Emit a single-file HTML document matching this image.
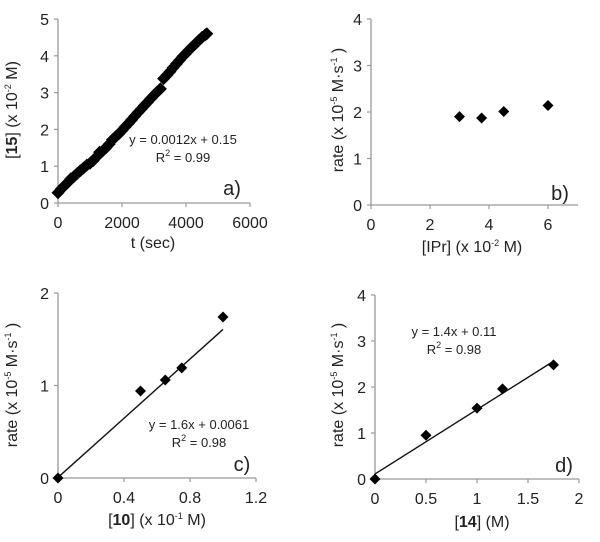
<!DOCTYPE html>
<html><head><meta charset="utf-8">
<style>
html,body{margin:0;padding:0;background:#fff;}
svg{display:block;font-family:"Liberation Sans",Arial,sans-serif;}
</style></head>
<body>
<svg id="fig" width="600" height="542" viewBox="0 0 600 542" xmlns="http://www.w3.org/2000/svg"></svg>
<script>
// Panel a data
const aTimes = [0,100,200,300,400,500,600,700,800,900,1000,1100,1200,1300,1400,1500,1600,1700,1800,1900,2000,2100,2200,2300,2400,2500,2600,2700,2800,2900,3000,3100,3200,3300,3400,3500,3600,3700,3800,3900,4000,4100,4200,4300,4400,4500,4600,4650];
const aConc = [0.28,0.38,0.47,0.55,0.66,0.72,0.8,0.88,0.95,1.03,1.08,1.15,1.25,1.38,1.42,1.5,1.6,1.72,1.8,1.88,1.97,2.07,2.16,2.26,2.36,2.46,2.55,2.65,2.74,2.84,2.93,3.02,3.1,3.38,3.47,3.57,3.68,3.78,3.88,3.98,4.07,4.16,4.25,4.33,4.42,4.5,4.57,4.6];
const aXTicks = [0,2000,4000,6000];
const aYTicks = [0,1,2,3,4,5];
// Panel b data
const bConc = [3,3.75,4.5,6];
const bRate = [1.9,1.87,2.01,2.14];
const bXTicks = [0,2,4,6];
const bYTicks = [0,1,2,3,4];
// Panel c data
const cConc = [0,0.5,0.65,0.75,1.0];
const cRate = [0,0.94,1.06,1.19,1.74];
const cFit = [1.6,0.0061];
const cXTicks = [0,0.4,0.8,1.2];
const cYTicks = [0,1,2];
// Panel d data
const dConc = [0,0.5,1,1.25,1.75];
const dRate = [0,0.95,1.54,1.96,2.48];
const dFit = [1.4,0.11];
const dXTicks = [0,0.5,1,1.5,2];
const dYTicks = [0,1,2,3,4];

const NS = "http://www.w3.org/2000/svg";
const svg = document.getElementById('fig');
function mk(tag, attrs, parent, text){
  const e = document.createElementNS(NS, tag);
  for (const k in attrs) e.setAttribute(k, attrs[k]);
  if (text !== undefined) e.textContent = text;
  (parent||svg).appendChild(e);
  return e;
}
function panel(p){
  const g = mk('g', {});
  
  
  const sx = v => p.x0 + (v - p.xmin) / (p.xmax - p.xmin) * (p.x1 - p.x0);
  const sy = v => p.y0 - (v - p.ymin) / (p.ymax - p.ymin) * (p.y0 - p.y1);
  const ax = mk('line', {x1:p.x0,y1:p.y0,x2:p.xend,y2:p.y0,stroke:'#999','stroke-width':1.3}, g);
  
  
  const ay = mk('line', {x1:p.x0,y1:p.y0,x2:p.x0,y2:p.y1,stroke:'#999','stroke-width':1.3}, g);
  
  
  p.xt.forEach(v => {
    mk('line',{x1:sx(v),y1:p.y0,x2:sx(v),y2:p.y0+4,stroke:'#999','stroke-width':1.2},g);
    const t = mk('text',{x:sx(v),y:p.y0+25,'text-anchor':'middle','font-size':16,fill:'#222'},g,String(v));
    
    
  });
  p.yt.forEach(v => {
    mk('line',{x1:p.x0-4,y1:sy(v),x2:p.x0,y2:sy(v),stroke:'#999','stroke-width':1.2},g);
    const t = mk('text',{x:p.x0-9,y:sy(v)+6,'text-anchor':'end','font-size':16,fill:'#222'},g,String(v));
    
    
  });
  if (p.fit) {
    const fl = mk('line',{x1:sx(p.fitFrom),y1:sy(p.fit[0]*p.fitFrom+p.fit[1]),x2:sx(p.fitTo),y2:sy(p.fit[0]*p.fitTo+p.fit[1]),stroke:'#111','stroke-width':1.4},g);
    
    
  }
  p.xs.forEach((xv,i) => {
    const cx = sx(xv), cy = sy(p.ys[i]), r = p.r;
    const d = mk('polygon',{points:`${cx},${cy-r} ${cx+r},${cy} ${cx},${cy+r} ${cx-r},${cy}`,fill:'#000'},g);
    
    
  });
  return g;
}

panel({id:'a',x0:58,x1:250,xend:250,xmin:0,xmax:6000,y0:203,y1:19,ymin:0,ymax:5,xt:aXTicks,yt:aYTicks,xs:aTimes,ys:aConc,r:6.5});
panel({id:'b',x0:371,x1:548,xend:578,xmin:0,xmax:6,y0:205,y1:19,ymin:0,ymax:4,xt:bXTicks,yt:bYTicks,xs:bConc,ys:bRate,r:5.5});
panel({id:'c',x0:58,x1:256,xend:256,xmin:0,xmax:1.2,y0:478,y1:293,ymin:0,ymax:2,xt:cXTicks,yt:cYTicks,xs:cConc,ys:cRate,r:5.5,fit:cFit,fitFrom:0,fitTo:1.0});
panel({id:'d',x0:375,x1:579,xend:579,xmin:0,xmax:2,y0:479,y1:295,ymin:0,ymax:4,xt:dXTicks,yt:dYTicks,xs:dConc,ys:dRate,r:5.5,fit:dFit,fitFrom:0,fitTo:1.75});
</script>
<script>
(function(){
const NS="http://www.w3.org/2000/svg";const svg=document.getElementById('fig');
function t(x,y,html,size,name,anchor,rot){
  const e=document.createElementNS(NS,'text');
  e.setAttribute('x',x);e.setAttribute('y',y);
  e.setAttribute('font-size',size);e.setAttribute('fill','#222');
  e.setAttribute('text-anchor',anchor||'middle');
  if(rot) e.setAttribute('transform',`rotate(-90 ${x} ${y})`);
  e.innerHTML=html;
  
  
  svg.appendChild(e);
}
const sup=s=>`<tspan font-size="9" dy="-6">${s}</tspan><tspan dy="6"> </tspan>`;
t(153,248,'t (sec)',16,'x-axis-title-a');
t(17,110,`[<tspan font-weight="bold">15</tspan>] (x 10${sup('-2')}M)`,16,'y-axis-title-a','middle',true);
t(183,144,'y = 0.0012x + 0.15',13,'equation-a');
t(183,162,`R${sup('2')}= 0.99`,13,'r-squared-a');
t(232,195,'a)',20,'panel-label-a');
t(472,252,`[IPr] (x 10${sup('-2')}M)`,16,'x-axis-title-b');
t(343,110,`rate (x 10${sup('-5')}M·s${sup('-1')})`,16,'y-axis-title-b','middle',true);
t(560,200,'b)',20,'panel-label-b');
t(157,525,`[<tspan font-weight="bold">10</tspan>] (x 10${sup('-1')}M)`,16,'x-axis-title-c');
t(17,385,`rate (x 10${sup('-5')}M·s${sup('-1')})`,16,'y-axis-title-c','middle',true);
t(199,429,'y = 1.6x + 0.0061',13,'equation-c');
t(199,447,`R${sup('2')}= 0.98`,13,'r-squared-c');
t(242,471,'c)',20,'panel-label-c');
t(482,527,`[<tspan font-weight="bold">14</tspan>] (M)`,16,'x-axis-title-d');
t(343,385,`rate (x 10${sup('-5')}M·s${sup('-1')})`,16,'y-axis-title-d','middle',true);
t(454,336,'y = 1.4x + 0.11',13,'equation-d');
t(454,354,`R${sup('2')}= 0.98`,13,'r-squared-d');
t(564,472,'d)',20,'panel-label-d');
})();
</script>
</body></html>
